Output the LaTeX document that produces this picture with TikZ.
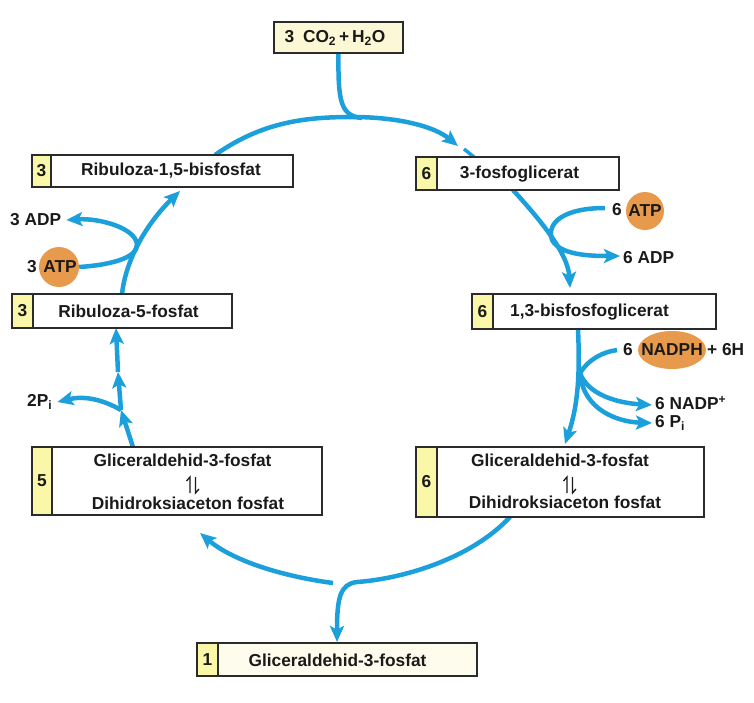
\documentclass[tikz,border=0pt]{standalone}
\usepackage{fontspec}
\setmainfont{Liberation Sans}
\usetikzlibrary{arrows.meta,calc,backgrounds,shapes.geometric}
\definecolor{cyc}{HTML}{1CA0DC}
\definecolor{orng}{HTML}{E89A4C}
\definecolor{numy}{HTML}{FBF7A9}
\definecolor{paley}{HTML}{FCF8D6}
\definecolor{boxc}{HTML}{2B2B2B}
\definecolor{txt}{HTML}{1A1A1A}
\begin{document}
\begin{tikzpicture}[x=1pt,y=-1pt,
  mainbox/.style={draw=boxc,line width=1.8pt,fill=white,inner sep=0pt,outer sep=0pt},
  cell/.style={draw=boxc,line width=1.8pt,fill=numy},
  lbl/.style={font=\fontsize{17.3}{19}\selectfont\bfseries,text=txt,inner sep=0pt},
  flow/.style={draw=cyc,line width=4.5pt,-{Stealth[length=16pt,width=14pt,inset=3.5pt]}},
  flowplain/.style={draw=cyc,line width=4.5pt},
  molec/.style={fill=orng,circle,inner sep=0pt},
  harp/.style={draw=txt,line width=1.3pt}]
\useasboundingbox (0,0) rectangle (754,702);

% ---- boxes ----
\node[mainbox,fill=paley,minimum width=129,minimum height=31] (co2) at (338.5,37.5) {};
\node[lbl] (co2t) at (335,38) {3\enspace CO\textsubscript{2}\,+\,H\textsubscript{2}O};

\node[mainbox,minimum width=261,minimum height=32] (rb15) at (162.5,171) {};
\path[cell] (rb15.north west) rectangle ($(rb15.south west)+(19,0)$);
\node[lbl] (rb15n) at (41.5,171) {3};
\node[lbl] (rb15t) at (171,171) {Ribuloza-1,5-bisfosfat};

\node[mainbox,minimum width=203,minimum height=33] (pga) at (517.5,173.5) {};
\path[cell] (pga.north west) rectangle ($(pga.south west)+(21,0)$);
\node[lbl] (pgan) at (426.5,173.5) {6};
\node[lbl] (pgat) at (519.5,174) {3-fosfoglicerat};

\node[mainbox,minimum width=244,minimum height=35] (bpg) at (594,311.5) {};
\path[cell] (bpg.north west) rectangle ($(bpg.south west)+(21,0)$);
\node[lbl] (bpgn) at (482.5,311.5) {6};
\node[lbl] (bpgt) at (589.5,312) {1,3-bisfosfoglicerat};

\node[mainbox,minimum width=220,minimum height=34] (ru5) at (122,311) {};
\path[cell] (ru5.north west) rectangle ($(ru5.south west)+(21,0)$);
\node[lbl] (ru5n) at (22.5,311) {3};
\node[lbl] (ru5t) at (128.5,311) {Ribuloza-5-fosfat};

\node[mainbox,minimum width=290,minimum height=68] (g5) at (177,481) {};
\path[cell] (g5.north west) rectangle ($(g5.south west)+(20,0)$);
\node[lbl] (g5n) at (42,481) {5};
\node[lbl] (g5a) at (182.5,460) {Gliceraldehid-3-fosfat};
\node[lbl] (g5b) at (188,503) {Dihidroksiaceton fosfat};
\draw[harp] (190,493) -- (190,477) -- (186.5,481);
\draw[harp] (195.5,477) -- (195.5,493) -- (199,489);

\node[mainbox,minimum width=288,minimum height=70] (g6) at (560,482) {};
\path[cell] (g6.north west) rectangle ($(g6.south west)+(21,0)$);
\node[lbl] (g6n) at (426.5,482) {6};
\node[lbl] (g6a) at (560,460) {Gliceraldehid-3-fosfat};
\node[lbl] (g6b) at (565,502) {Dihidroksiaceton fosfat};
\draw[harp] (567,493) -- (567,477) -- (563.5,481);
\draw[harp] (572.5,477) -- (572.5,493) -- (576,489);

\node[mainbox,fill=paley!45,minimum width=280,minimum height=33] (g1) at (337,659.5) {};
\path[cell] (g1.north west) rectangle ($(g1.south west)+(21,0)$);
\node[lbl] (g1n) at (207.5,659.5) {1};
\node[lbl] (g1t) at (337.5,660) {Gliceraldehid-3-fosfat};

% ---- cofactors ----
\node[molec,minimum size=38pt] (atp6) at (645,211) {};
\node[lbl] (atp6t) at (645,211) {ATP};
\node[lbl] (n6a) at (617,210) {6};
\node[lbl,anchor=west] (adp6) at (623,258) {6 ADP};

\node[molec,ellipse,minimum width=68pt,minimum height=38pt] (nadph) at (672,350) {};
\node[lbl] (nadpht) at (672,350) {NADPH};
\node[lbl] (n6b) at (628,350) {6};
\node[lbl,anchor=west] (h6) at (707,350) {+ 6H};
\node[lbl,anchor=west] (nadp) at (655,403) {6 NADP\textsuperscript{+}};
\node[lbl,anchor=west] (pi6) at (655,423) {6 P\textsubscript{i}};

\node[molec,minimum size=40pt] (atp3) at (59,267) {};
\node[lbl] (atp3t) at (60,267) {ATP};
\node[lbl] (n3a) at (32,267) {3};
\node[lbl,anchor=west] (adp3) at (10,220) {3 ADP};
\node[lbl,anchor=west] (pi2) at (27,402) {2P\textsubscript{i}};

% ---- flows ----
\coordinate (l1) at (121,410);
\coordinate (l2) at (118,372);
\coordinate (jn) at (580,373);
\coordinate (jb) at (357,582);
\coordinate (tarc) at ($(pga.north west)+(42,-11)$);
\begin{scope}[on background layer]
\draw[flow] ($(rb15.north west)+(183,0)$) .. controls (262,122) and (305,117) .. (352,117)
   .. controls (400,117) and (435,127) .. (tarc);
\draw[flowplain,line width=3.5pt] ($(tarc)+(6,3)$) -- ($(pga.north west)+(58,0)$);
\draw[flowplain] (co2.south) .. controls (338,100) and (340,116) .. (362,118);

\draw[flow] ($(pga.south west)+(97,0)$) .. controls (545,225) and (568,255) .. ($(bpg.north west)+(98,-6)$);
\draw[flow] ($(n6a.west)+(-7,-2)$) .. controls (565,208) and (546,222) .. (552,240)
   .. controls (560,255) and (590,256) .. ($(adp6.west)+(-3,-2)$);

\draw[flow] ($(bpg.south west)+(106,0)$) .. controls (580,375) and (578,405) .. ($(g6.north west)+(149,-3)$);
\draw[flowplain] ($(n6b.west)+(-6,0)$) .. controls (602,352) and (588,360) .. (jn);
\draw[flow] (jn) .. controls (588,395) and (618,403) .. ($(nadp.west)+(-3,2)$);
\draw[flow] (jn) .. controls (583,410) and (618,422) .. ($(pi6.west)+(-3,0)$);

\draw[flow] ($(g6.south west)+(94,0)$) .. controls (470,560) and (400,579) .. (jb)
   .. controls (340,584) and (337,598) .. ($(g1.north west)+(140,-1)$);
\draw[flow] (333,583) .. controls (280,576) and (232,560) .. ($(g5.south west)+(168,18)$);

\draw[flow] ($(g5.north west)+(101,0)$) -- (l1);
\draw[flow] (l1) -- (l2);
\draw[flow] (l2) -- ($(ru5.south west)+(104,0)$);
\draw[flow] (l1) .. controls (100,398) and (82,396) .. ($(pi2.east)+(5,0)$);

\draw[flow] ($(ru5.north west)+(110,0)$) .. controls (126,258) and (148,222) .. ($(rb15.south west)+(148,4)$);
\draw[flow] (atp3.east) .. controls (110,265) and (138,258) .. (137,244)
   .. controls (135,228) and (100,218) .. ($(adp3.east)+(5,0)$);
\end{scope}
\end{tikzpicture}
\end{document}
